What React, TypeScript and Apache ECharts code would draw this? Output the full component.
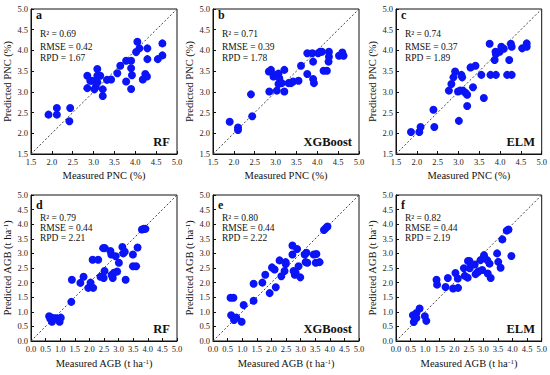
import React, { useEffect, useRef } from "react";
import * as echarts from "echarts";

const panelLetters = ["a", "b", "c", "d", "e", "f"];
const modelNames = ["RF", "XGBoost", "ELM", "RF", "XGBoost", "ELM"];
const r2Values = ["0.69", "0.71", "0.74", "0.79", "0.80", "0.82"];
const rmseValues = ["0.42", "0.39", "0.37", "0.44", "0.44", "0.44"];
const rpdValues = ["1.67", "1.78", "1.89", "2.21", "2.22", "2.19"];

const pncRange = [1.5, 5.0];
const agbRange = [0.0, 5.0];
const tickStep = 0.5;

const rfPNC = [[1.92,2.45],[2.12,2.61],[2.12,2.45],[2.44,2.61],[2.42,2.29],[2.85,3.39],[2.85,3.09],[2.92,3.27],[2.96,3.27],[3.02,3.06],[3.05,3.11],[3.09,3.55],[3.09,3.39],[3.09,3.23],[3.16,3.39],[3.22,3.06],[3.22,2.90],[3.32,3.29],[3.42,3.30],[3.57,3.45],[3.64,3.63],[3.78,3.75],[3.78,3.25],[3.90,3.75],[3.90,3.57],[3.92,3.40],[3.90,3.07],[4.02,3.96],[4.05,4.21],[4.10,4.05],[4.18,3.30],[4.24,3.43],[4.28,3.37],[4.29,3.79],[4.29,4.05],[4.54,3.79],[4.65,4.17],[4.65,3.88]];
const xgbPNC = [[1.90,2.28],[2.10,2.14],[2.10,2.08],[2.41,2.94],[2.44,2.41],[2.84,3.49],[2.89,3.53],[2.85,3.01],[2.95,3.37],[3.01,3.41],[3.03,3.03],[3.07,3.44],[3.09,3.33],[3.07,3.19],[3.15,3.21],[3.21,3.53],[3.21,3.01],[3.31,3.21],[3.37,3.21],[3.42,3.25],[3.55,3.27],[3.61,3.63],[3.76,3.93],[3.76,3.43],[3.88,3.93],[3.90,3.73],[3.90,3.31],[3.92,3.21],[4.02,3.93],[4.07,3.97],[4.11,3.97],[4.15,3.51],[4.23,3.51],[4.27,3.73],[4.28,3.97],[4.28,3.85],[4.52,3.87],[4.60,3.95],[4.63,3.87]];
const elmPNC = [[1.86,2.03],[2.06,2.03],[2.09,2.15],[2.40,2.57],[2.42,2.15],[2.77,3.03],[2.83,3.19],[2.88,3.35],[2.92,3.49],[3.01,2.30],[2.99,3.01],[3.04,3.03],[3.07,3.41],[3.09,3.35],[3.11,3.03],[3.17,2.98],[3.21,2.66],[3.21,2.93],[3.29,3.59],[3.35,3.11],[3.41,3.63],[3.55,3.41],[3.61,2.85],[3.75,4.16],[3.77,3.41],[3.87,3.77],[3.89,3.97],[3.90,3.91],[3.90,3.41],[3.99,3.97],[4.03,4.09],[4.09,4.04],[4.17,3.41],[4.22,3.77],[4.26,4.16],[4.28,4.09],[4.28,3.41],[4.53,4.05],[4.64,4.09],[4.64,4.17]];
const rfAGB = [[0.62,0.85],[0.66,0.76],[0.70,0.80],[0.72,0.66],[0.80,0.78],[0.86,0.78],[0.98,0.66],[1.02,0.80],[1.38,1.34],[1.40,2.10],[1.69,1.99],[1.80,2.20],[1.96,1.82],[2.04,2.00],[2.13,1.82],[2.11,2.78],[2.30,2.78],[2.38,2.20],[2.49,2.16],[2.52,2.40],[2.47,3.18],[2.53,3.18],[2.72,3.08],[2.75,2.96],[2.80,2.16],[2.76,2.26],[2.84,2.34],[2.90,2.90],[2.95,2.38],[3.01,2.68],[3.13,3.22],[3.16,3.00],[3.21,3.06],[3.24,2.10],[3.49,2.96],[3.49,2.56],[3.60,2.56],[3.65,3.20],[3.80,3.82],[3.86,3.84],[3.92,3.84]];
const xgbAGB = [[0.60,1.48],[0.70,1.48],[0.62,0.88],[0.72,0.72],[0.80,0.80],[0.98,0.66],[1.05,1.23],[1.39,1.38],[1.39,1.96],[1.69,2.00],[1.79,2.27],[1.94,1.64],[2.02,2.52],[2.11,2.45],[2.15,1.84],[2.28,2.76],[2.34,2.22],[2.45,2.40],[2.49,2.70],[2.49,2.64],[2.72,3.27],[2.72,2.96],[2.76,2.40],[2.80,2.27],[2.83,2.34],[2.88,3.15],[2.93,2.56],[2.99,2.18],[3.14,2.96],[3.17,2.70],[3.20,3.02],[3.23,2.68],[3.45,2.96],[3.54,2.98],[3.52,2.68],[3.65,2.70],[3.80,3.80],[3.86,3.86],[3.92,3.92]];
const elmAGB = [[0.61,0.65],[0.58,0.88],[0.70,0.96],[0.70,0.79],[0.81,1.11],[0.99,0.85],[1.04,0.69],[1.39,2.10],[1.41,1.93],[1.70,1.85],[1.78,2.16],[1.96,1.80],[2.04,2.33],[2.12,2.14],[2.13,1.82],[2.33,2.49],[2.36,2.23],[2.46,2.17],[2.47,2.74],[2.52,2.74],[2.53,2.49],[2.70,2.62],[2.73,2.29],[2.79,2.35],[2.84,2.39],[2.90,2.77],[2.96,2.43],[3.02,2.94],[3.13,2.77],[3.15,2.31],[3.21,2.65],[3.25,2.16],[3.47,3.00],[3.51,2.71],[3.59,2.51],[3.65,3.48],[3.80,3.78],[3.86,3.82],[3.96,2.91]];

const panelData = [rfPNC, xgbPNC, elmPNC, rfAGB, xgbAGB, elmAGB];

const FONT = "Liberation Serif";

export default function App() {
  const ref = useRef<HTMLDivElement>(null);
  useEffect(() => {
    if (!ref.current) return;
    const chart = echarts.init(ref.current, undefined, { renderer: "svg" });
    const lefts = [31, 213, 396];
    const tops = [9, 195];
    const heights = [145, 146];
    const width = 146;
    const grids: any[] = [];
    const xAxes: any[] = [];
    const yAxes: any[] = [];
    const series: any[] = [];
    const graphics: any[] = [];
    const sup = { fontSize: 7, verticalAlign: "top", lineHeight: 10, fontFamily: FONT, color: "#111" };
    for (let i = 0; i < 6; i++) {
      const row = Math.floor(i / 3);
      const col = i % 3;
      const range = row === 0 ? pncRange : agbRange;
      const left = lefts[col];
      const top = tops[row];
      const h = heights[row];
      grids.push({ left, top, width, height: h, show: true, borderColor: "#111", borderWidth: 1, backgroundColor: "transparent" });
      const axisCommon = {
        gridIndex: i,
        type: "value",
        min: range[0],
        max: range[1],
        interval: tickStep,
        splitLine: { show: false },
        axisLine: { show: true, lineStyle: { color: "#111", width: 1 } },
        axisTick: { show: true, inside: true, length: 3, lineStyle: { color: "#111" } },
        axisLabel: { fontFamily: FONT, fontSize: 8.5, color: "#222", margin: 3, formatter: (v: number) => v.toFixed(1) },
        nameLocation: "middle",
        nameTextStyle: { fontFamily: FONT, fontSize: 10.5, color: "#111", rich: { sup } },
      };
      xAxes.push({
        ...axisCommon,
        name: row === 0 ? "Measured PNC (%)" : "Measured AGB (t ha{sup|-1})",
        nameGap: row === 0 ? 16 : 17,
      });
      yAxes.push({
        ...axisCommon,
        name: row === 0 ? "Predicted PNC (%)" : "Predicted AGB (t ha{sup|-1})",
        nameGap: 16,
      });
      series.push({
        type: "line",
        xAxisIndex: i,
        yAxisIndex: i,
        data: [[range[0], range[0]], [range[1], range[1]]],
        showSymbol: false,
        symbol: "none",
        lineStyle: { color: "#444", width: 1, type: [2, 2] },
        silent: true,
        z: 1,
      });
      series.push({
        type: "scatter",
        xAxisIndex: i,
        yAxisIndex: i,
        data: panelData[i],
        symbolSize: 8,
        itemStyle: { color: "#0a14f5", opacity: 1 },
        z: 3,
      });
      const letterY = row === 0 ? top + 6 : top + 10;
      graphics.push({
        type: "text",
        x: left + 5,
        y: letterY,
        style: { text: panelLetters[i], fontFamily: FONT, fontSize: 12, fontWeight: "bold", fill: "#111", textAlign: "left", textVerticalAlign: "middle" },
      });
      const statY = row === 0 ? [top + 25, top + 37.5, top + 49] : [top + 23, top + 32.5, top + 42.5];
      const statTexts = [`R² = ${r2Values[i]}`, `RMSE = ${rmseValues[i]}`, `RPD = ${rpdValues[i]}`];
      statTexts.forEach((t, k) => {
        graphics.push({
          type: "text",
          x: left + 9,
          y: statY[k],
          style: { text: t, fontFamily: FONT, fontSize: 9.5, fill: "#111", textAlign: "left", textVerticalAlign: "middle" },
        });
      });
      graphics.push({
        type: "text",
        x: left + width - 7,
        y: top + h - 12,
        style: { text: modelNames[i], fontFamily: FONT, fontSize: 12.5, fontWeight: "bold", fill: "#111", textAlign: "right", textVerticalAlign: "middle" },
      });
    }
    chart.setOption({
      animation: false,
      backgroundColor: "#ffffff",
      grid: grids,
      xAxis: xAxes,
      yAxis: yAxes,
      series,
      graphic: graphics,
    });
    return () => chart.dispose();
  }, []);
  return <div ref={ref} style={{ width: 550, height: 375, position: "absolute", left: 0, top: 0 }} />;
}
